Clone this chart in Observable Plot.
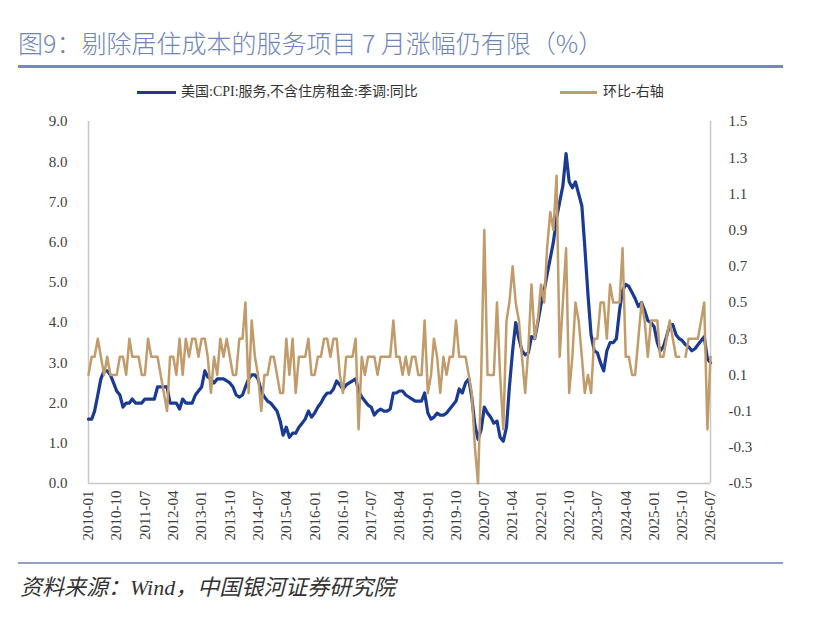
<!DOCTYPE html>
<html>
<head>
<meta charset="utf-8">
<script src="https://cdn.jsdelivr.net/npm/d3@7"></script>
<script src="https://cdn.jsdelivr.net/npm/@observablehq/plot@0.6"></script>
<style>
  html, body { margin: 0; padding: 0; background: #fff; }
  body { width: 813px; height: 630px; position: relative; overflow: hidden;
         font-family: "Liberation Serif", "Noto Sans CJK SC", serif; color: #333; }
  #title { position: absolute; left: 18px; top: 27px; font-family: "Noto Sans CJK SC", sans-serif;
           font-size: 25px; font-weight: 300; color: #6f84b8; white-space: nowrap; line-height: 30px; }
  #rule1 { position: absolute; left: 18px; top: 65px; width: 765px; height: 3px; background: #7389bd; }
  .sw { position: absolute; height: 3px; }
  .lt { position: absolute; font-size: 14px; white-space: nowrap; line-height: 18px; color: #333;
        font-family: "Liberation Serif", "Noto Sans CJK SC", serif; }
  #chart { position: absolute; left: 0; top: 100px; }
  #rule2 { position: absolute; left: 18px; top: 562px; width: 765px; height: 2px; background: #8fa0c9; }
  #source { position: absolute; left: 20px; top: 574px; font-size: 22px; font-style: italic; color: #333;
            font-family: "Liberation Serif", "Noto Sans CJK SC", serif; white-space: nowrap; line-height: 28px; }
</style>
</head>
<body>
<div id="title">图9：剔除居住成本的服务项目 7 月涨幅仍有限（%）</div>
<div id="rule1"></div>
<div class="sw" style="left:137px; top:91px; width:39px; background:#1a3a94;"></div>
<div class="lt" style="left:181px; top:83px;">美国:CPI:服务,不含住房租金:季调:同比</div>
<div class="sw" style="left:560px; top:91px; width:37px; background:#c29b6a;"></div>
<div class="lt" style="left:603px; top:83px;">环比-右轴</div>
<div id="chart"></div>
<div id="rule2"></div>
<div id="source">资料来源：Wind，中国银河证券研究院</div>
<script>
// ---------- data ----------
const startMonth = "2010-01";
const endMonth = "2026-07";

// 美国:CPI:服务,不含住房租金:季调:同比 (%), monthly 2010-01 .. 2026-07
const yoy = [
  1.6, 1.6, 1.8, 2.2, 2.6, 2.8, 2.8, 2.7, 2.5, 2.3, 2.2, 1.9,        // 2010
  2.0, 2.0, 2.1, 2.0, 2.0, 2.0, 2.1, 2.1, 2.1, 2.1, 2.4, 2.4,        // 2011
  2.4, 2.4, 2.0, 2.0, 2.0, 1.85, 2.1, 2.0, 2.0, 2.0, 2.2, 2.3,       // 2012
  2.4, 2.8, 2.65, 2.6, 2.5, 2.6, 2.6, 2.6, 2.55, 2.5, 2.4, 2.2,      // 2013
  2.15, 2.2, 2.4, 2.6, 2.7, 2.7, 2.6, 2.3, 2.15, 2.05, 2.0, 1.9,     // 2014
  1.8, 1.55, 1.2, 1.4, 1.15, 1.25, 1.25, 1.4, 1.5, 1.6, 1.8, 1.65,   // 2015
  1.75, 1.9, 2.0, 2.15, 2.25, 2.25, 2.35, 2.55, 2.45, 2.35, 2.45, 2.5, // 2016
  2.55, 2.6, 2.3, 2.15, 2.05, 1.95, 1.9, 1.7, 1.8, 1.85, 1.8, 1.8,   // 2017
  1.85, 2.25, 2.25, 2.3, 2.3, 2.2, 2.15, 2.1, 2.05, 2.05, 2.05, 2.25, // 2018
  1.75, 1.6, 1.65, 1.75, 1.7, 1.7, 1.75, 1.85, 1.95, 2.05, 2.35, 2.25, // 2019
  2.5, 2.6, 2.15, 1.45, 1.1, 1.35, 1.9, 1.75, 1.65, 1.5, 1.55, 1.15, // 2020
  1.05, 1.4, 2.4, 3.3, 4.0, 3.6, 3.3, 3.2, 3.25, 3.65, 3.6, 4.0,     // 2021
  4.45, 4.8, 5.2, 5.6, 6.0, 6.6, 7.0, 7.4, 8.2, 7.5, 7.35, 7.5,      // 2022
  7.2, 6.9, 5.9, 4.7, 3.7, 3.3, 3.25, 3.0, 2.8, 3.3, 3.5, 3.5,       // 2023
  3.6, 4.3, 4.8, 4.95, 4.9, 4.75, 4.6, 4.4, 4.5, 4.3, 4.05, 4.0,     // 2024
  3.9, 3.5, 3.3, 3.4, 3.65, 3.95, 3.95, 3.7, 3.6, 3.55, 3.45, 3.4,   // 2025
  3.3, 3.35, 3.45, 3.55, 3.65, 3.1, 3.0                              // 2026
];

// 环比-右轴 (%), monthly 2010-01 .. 2026-07
const mom = [
  0.1, 0.2, 0.2, 0.3, 0.2, 0.1, 0.2, 0.1, 0.1, 0.1, 0.2, 0.2,        // 2010
  0.1, 0.3, 0.2, 0.2, 0.2, 0.1, 0.1, 0.3, 0.2, 0.2, 0.2, 0.1,        // 2011
  0.0, -0.1, 0.2, 0.2, 0.1, 0.3, 0.1, 0.3, 0.2, 0.3, 0.3, 0.2,       // 2012
  0.3, 0.3, 0.2, 0.0, 0.2, 0.1, 0.3, 0.2, 0.3, 0.2, 0.1, 0.1,        // 2013
  0.3, 0.3, 0.5, 0.0, 0.4, 0.2, 0.1, -0.1, 0.1, 0.1, 0.2, 0.2,       // 2014
  0.1, 0.0, 0.0, 0.3, 0.1, 0.3, 0.0, 0.2, 0.2, 0.2, 0.3, 0.1,        // 2015
  0.1, 0.2, 0.2, 0.3, 0.3, 0.2, 0.3, 0.3, 0.1, 0.0, 0.2, 0.2,        // 2016
  0.2, 0.3, -0.2, 0.2, 0.1, 0.2, 0.2, 0.2, 0.1, 0.2, 0.2, 0.2,       // 2017
  0.2, 0.4, 0.2, 0.2, 0.1, 0.2, 0.1, 0.2, 0.2, 0.1, 0.1, 0.4,        // 2018
  0.0, 0.1, 0.3, 0.2, 0.0, 0.2, 0.1, 0.2, 0.2, 0.4, 0.2, 0.2,        // 2019
  0.2, 0.1, 0.0, -0.3, -0.5, 0.1, 0.9, 0.1, 0.1, 0.1, 0.5, 0.1,      // 2020
  -0.2, 0.4, 0.5, 0.7, 0.5, 0.4, 0.2, 0.0, 0.25, 0.6, 0.3, 0.4,      // 2021
  0.6, 0.5, 0.8, 1.0, 0.9, 1.2, 0.2, 0.5, 0.8, 0.0, 0.2, 0.5,        // 2022
  0.4, 0.2, 0.0, 0.1, 0.0, 0.3, 0.3, 0.5, 0.5, 0.3, 0.6, 0.5,        // 2023
  0.5, 0.5, 0.8, 0.2, 0.2, 0.1, 0.1, 0.3, 0.5, 0.4, 0.2, 0.4,        // 2024
  0.4, 0.4, 0.2, 0.2, 0.3, 0.4, 0.3, 0.2, 0.2, null, 0.2, 0.3,       // 2025
  0.3, 0.3, 0.3, 0.4, 0.5, -0.2, 0.2                                 // 2026
];

const xTickLabels = [
  "2010-01","2010-10","2011-07","2012-04","2013-01","2013-10","2014-07","2015-04",
  "2016-01","2016-10","2017-07","2018-04","2019-01","2019-10","2020-07","2021-04",
  "2022-01","2022-10","2023-07","2024-04","2025-01","2025-10","2026-07"
];
const leftTicks = [0, 1, 2, 3, 4, 5, 6, 7, 8, 9];
const rightTicks = [-0.5, -0.3, -0.1, 0.1, 0.3, 0.5, 0.7, 0.9, 1.1, 1.3, 1.5];
const leftDomain = [0, 9];
const rightDomain = [-0.5, 1.5];

// ---------- build ----------
const parse = d3.utcParse("%Y-%m");
const months = d3.utcMonth.range(parse(startMonth), d3.utcMonth.offset(parse(endMonth), 1));
const data = months.map((d, i) => ({ date: d, yoy: yoy[i], mom: mom[i] }));

// map right-axis values into the left-axis space
const r2l = d3.scaleLinear().domain(rightDomain).range(leftDomain);
const fmt1 = v => (Math.round(v * 10) / 10).toFixed(1);

const xDomain = [parse(startMonth), parse(endMonth)];
const axisColor = "#c8c8c8";

const chart = Plot.plot({
  width: 813,
  height: 470,
  marginLeft: 88,
  marginRight: 103,
  marginTop: 21,
  marginBottom: 87,
  style: { fontFamily: "'Liberation Serif', 'Noto Sans CJK SC', serif", fontSize: "15px", color: "#404040", background: "transparent" },
  x: { type: "utc", domain: xDomain },
  y: { domain: leftDomain },
  marks: [
    Plot.axisY(leftTicks, { anchor: "left", tickSize: 0, tickPadding: 21, tickFormat: fmt1, label: null }),
    Plot.axisY(rightTicks.map(r2l), { anchor: "right", tickSize: 0, tickPadding: 18, tickFormat: d => fmt1(r2l.invert(d)), label: null }),
    Plot.axisX(xTickLabels.map(parse), { anchor: "bottom", tickSize: 0, tickPadding: 7, tickRotate: -90, tickFormat: d3.utcFormat("%Y-%m"), label: null }),
    Plot.ruleX(xDomain, { stroke: axisColor, strokeWidth: 1.5 }),
    Plot.ruleY([leftDomain[0]], { stroke: axisColor, strokeWidth: 1.5 }),
    Plot.lineY(data, { x: "date", y: "yoy", stroke: "#1a3a94", strokeWidth: 3.2, strokeLinejoin: "round" }),
    Plot.lineY(data, { x: "date", y: d => d.mom == null ? NaN : r2l(d.mom), stroke: "#c29b6a", strokeWidth: 2.5, strokeLinejoin: "round" })
  ]
});
document.getElementById("chart").appendChild(chart);
</script>
</body>
</html>
